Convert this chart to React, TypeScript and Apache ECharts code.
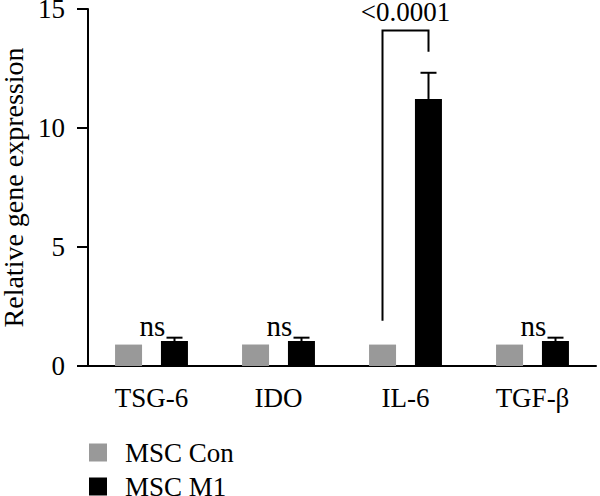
import React, { useEffect, useRef } from "react";
import * as echarts from "echarts";

const categories = ["TSG-6", "IDO", "IL-6", "TGF-β"];
const conValues = [0.9, 0.9, 0.9, 0.9];
const m1Values = [1.05, 1.05, 11.22, 1.05];
const m1ErrUpper = [0.14, 0.14, 1.1, 0.14];
const sigLabels = ["ns", "ns", "<0.0001", "ns"];
const nsLabelY = 1.66;
// bracket for IL-6: [topValue, leftLegBottom, rightLegBottom]
const bracket = [14.1, 1.9, 13.2];
const yTicks = { min: 0, max: 15, interval: 5 };

const FONT = "'Liberation Serif', 'Times New Roman', serif";
const BAR_OFFSET = 23;

export default function App() {
  const ref = useRef<HTMLDivElement>(null);
  useEffect(() => {
    if (!ref.current) return;
    const chart = echarts.init(ref.current, undefined, { renderer: "svg" });
    const option: any = {
      animation: false,
      textStyle: { fontFamily: FONT, color: "#000" },
      grid: { left: 88, right: 4, top: 9, bottom: 130, outerBoundsMode: "none", containLabel: false },
      legend: {
        data: ["MSC Con", "MSC M1"],
        orient: "vertical",
        left: 89,
        top: 439,
        height: 200,
        padding: 0,
        itemWidth: 18,
        itemHeight: 18,
        itemGap: 7,
        icon: "rect",
        textStyle: { fontSize: 27, color: "#000", fontFamily: FONT, padding: [0, 0, 0, 13] },
      },
      xAxis: {
        type: "category",
        data: categories,
        axisLine: { lineStyle: { color: "#000", width: 2 } },
        axisTick: { alignWithLabel: true, length: 11, lineStyle: { color: "#000", width: 2 } },
        axisLabel: { color: "#000", fontSize: 27, fontFamily: FONT, margin: 18 },
      },
      yAxis: {
        type: "value",
        min: yTicks.min,
        max: yTicks.max,
        interval: yTicks.interval,
        name: "Relative gene expression",
        nameLocation: "middle",
        nameGap: 61,
        nameTextStyle: { fontSize: 28, color: "#000", fontFamily: FONT },
        axisLine: { show: true, lineStyle: { color: "#000", width: 2 } },
        axisTick: { show: true, length: 11, lineStyle: { color: "#000", width: 2 } },
        axisLabel: { color: "#000", fontSize: 27, fontFamily: FONT, margin: 23 },
        splitLine: { show: false },
      },
      series: [
        {
          name: "MSC Con",
          type: "bar",
          data: conValues,
          barWidth: 27,
          barGap: "70%",
          itemStyle: { color: "#999999" },
        },
        {
          name: "MSC M1",
          type: "bar",
          data: m1Values,
          barWidth: 27,
          itemStyle: { color: "#000000" },
        },
        {
          type: "custom",
          name: "err",
          z: 5,
          data: m1Values.map((v, i) => [i, v, v + m1ErrUpper[i]]),
          renderItem: (params: any, api: any) => {
            const i = api.value(0);
            const p0 = api.coord([i, api.value(1)]);
            const p1 = api.coord([i, api.value(2)]);
            const x = p0[0] + BAR_OFFSET;
            return {
              type: "group",
              children: [
                { type: "line", shape: { x1: x, y1: p0[1], x2: x, y2: p1[1] }, style: { stroke: "#000", lineWidth: 2 } },
                { type: "line", shape: { x1: x - 8, y1: p1[1], x2: x + 8, y2: p1[1] }, style: { stroke: "#000", lineWidth: 2 } },
              ],
            };
          },
        },
        {
          type: "custom",
          name: "sig",
          z: 6,
          data: sigLabels.map((s, i) => [i, s === "ns" ? 0 : 1]),
          renderItem: (params: any, api: any) => {
            const i = api.value(0);
            const label = sigLabels[i];
            if (label === "ns") {
              const p = api.coord([i, nsLabelY]);
              return {
                type: "text",
                style: { text: label, x: p[0] + 1, y: p[1], align: "center", verticalAlign: "middle", fontSize: 29, fontFamily: FONT, fill: "#000" },
              };
            }
            const top = api.coord([i, bracket[0]]);
            const lb = api.coord([i, bracket[1]]);
            const rb = api.coord([i, bracket[2]]);
            const xl = top[0] - BAR_OFFSET;
            const xr = top[0] + BAR_OFFSET;
            return {
              type: "group",
              children: [
                {
                  type: "polyline",
                  shape: { points: [[xl, lb[1]], [xl, top[1]], [xr, top[1]], [xr, rb[1]]] },
                  style: { stroke: "#000", lineWidth: 2, fill: "none" },
                },
                {
                  type: "text",
                  style: { text: label, x: top[0], y: top[1] - 5, align: "center", verticalAlign: "bottom", fontSize: 27, fontFamily: FONT, fill: "#000" },
                },
              ],
            };
          },
        },
      ],
    };
    chart.setOption(option);
    return () => chart.dispose();
  }, []);
  return <div ref={ref} style={{ position: "fixed", left: 0, top: 0, width: 600, height: 496, background: "#fff" }} />;
}
